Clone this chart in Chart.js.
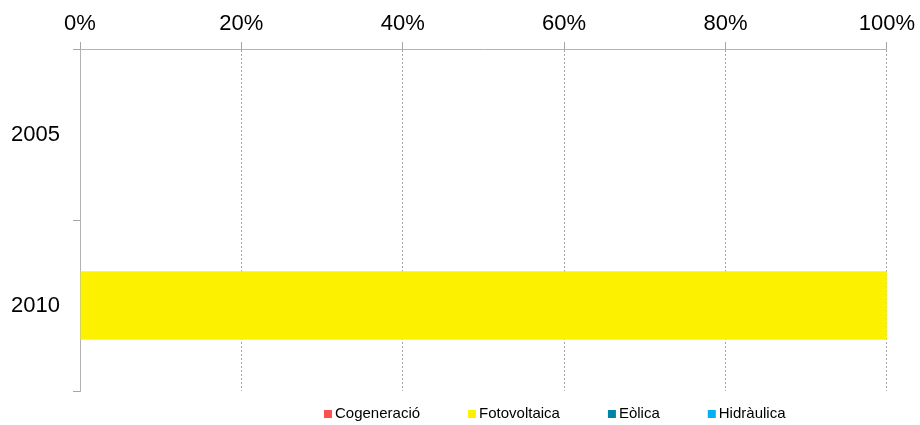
<!DOCTYPE html>
<html>
<head>
<meta charset="utf-8">
<script src="https://cdn.jsdelivr.net/npm/chart.js@4"></script>
<style>
	html, body { margin: 0; padding: 0; background: #fff; }
	#wrap { width: 920px; height: 425px; }
</style>
</head>
<body>
<div id="wrap"><canvas id="shareChart"></canvas></div>
<script>
const years = ["2005", "2010"];
const cogeneracio = [0, 0];
const fotovoltaica = [0, 100];
const eolica = [0, 0];
const hidraulica = [0, 0];
const percentTicks = [0, 20, 40, 60, 80, 100];

const font = "'Liberation Sans', Arial, sans-serif";

// legend drawn by hand: the built-in one can't do the tight box/text gap
const bottomLegend = {
	id: "bottomLegend",
	afterDraw: function (chart) {
		const ctx = chart.ctx;
		let x = 324;
		const y = 414;
		ctx.save();
		ctx.font = "15px " + font;
		ctx.textBaseline = "middle";
		chart.data.datasets.forEach(function (ds) {
			ctx.fillStyle = ds.backgroundColor;
			ctx.fillRect(x, y - 4, 8, 8);
			ctx.fillStyle = "#000";
			ctx.fillText(ds.label, x + 11, y);
			x += 11 + ctx.measureText(ds.label).width + 48;
		});
		ctx.restore();
	}
};

new Chart(document.getElementById("shareChart"), {
	type: "bar",
	data: {
		labels: years,
		datasets: [
			{ label: "Cogeneració", data: cogeneracio, backgroundColor: "#FF5050" },
			{ label: "Fotovoltaica", data: fotovoltaica, backgroundColor: "#FCF200" },
			{ label: "Eòlica", data: eolica, backgroundColor: "#0083A9" },
			{ label: "Hidràulica", data: hidraulica, backgroundColor: "#00B0F0" }
		]
	},
	options: {
		indexAxis: "y",
		responsive: true,
		maintainAspectRatio: false,
		animation: false,
		categoryPercentage: 0.8,
		barPercentage: 0.5,
		layout: { padding: { top: 0, left: 0, right: 30, bottom: 34 } },
		plugins: {
			legend: { display: false },
			tooltip: { enabled: false }
		},
		scales: {
			x: {
				position: "top",
				stacked: true,
				min: 0,
				max: 100,
				afterBuildTicks: function (axis) {
					axis.ticks = percentTicks.map(v => ({ value: v }));
				},
				// labels are clipped to the axis box, so let it reach the canvas edge
				afterFit: function (axis) {
					axis.height = 49;
				},
				ticks: {
					color: "#000",
					font: { family: font, size: 22 },
					padding: 5,
					callback: v => v + "%"
				},
				grid: {
					color: "#a6a6a6",
					tickColor: "#a6a6a6",
					tickLength: 7,
					tickBorderDash: []
				},
				border: { color: "#b3b3b3", dash: [2, 2] }
			},
			y: {
				stacked: true,
				afterFit: function (axis) {
					axis.width = 80;
				},
				ticks: {
					color: "#000",
					font: { family: font, size: 22 },
					padding: 13
				},
				grid: {
					drawOnChartArea: false,
					tickColor: "#a6a6a6",
					tickLength: 7
				},
				border: { color: "#b3b3b3" }
			}
		}
	},
	plugins: [bottomLegend]
});
</script>
</body>
</html>
